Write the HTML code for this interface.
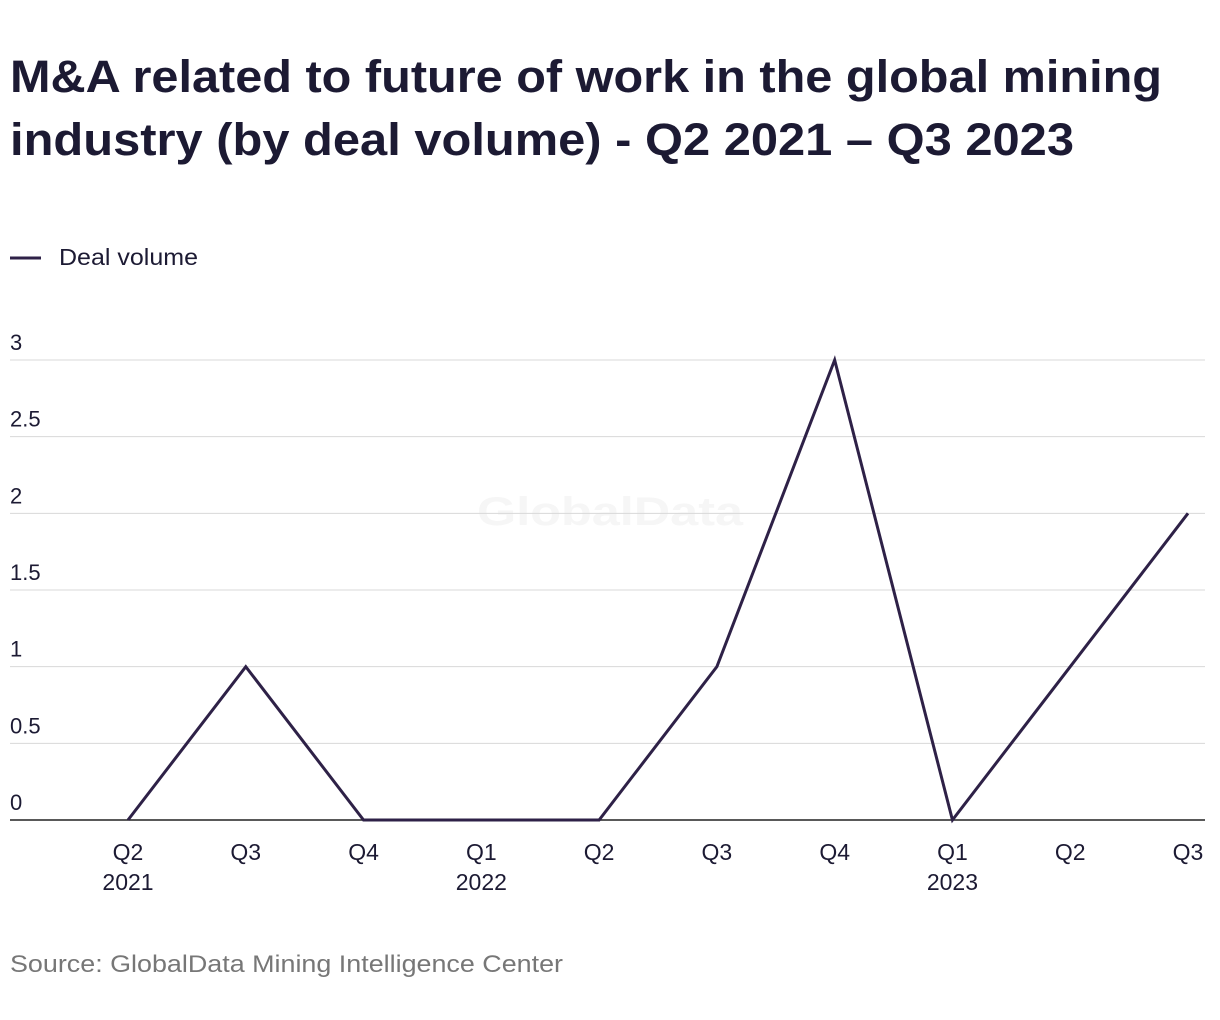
<!DOCTYPE html>
<html><head><meta charset="utf-8"><style>
body{margin:0;background:#fff;width:1220px;height:1020px;overflow:hidden;font-family:"Liberation Sans",sans-serif;}
svg{position:absolute;left:0;top:0}
</style></head><body>
<svg width="1220" height="1020">
<text x="10" y="92" font-size="45" font-weight="bold" fill="#1c1a33" textLength="1152" lengthAdjust="spacingAndGlyphs">M&amp;A related to future of work in the global mining</text>
<text x="10" y="155" font-size="45" font-weight="bold" fill="#1c1a33" textLength="1064" lengthAdjust="spacingAndGlyphs">industry (by deal volume) - Q2 2021 – Q3 2023</text>
<line x1="10" y1="258" x2="41" y2="258" stroke="#2e2147" stroke-width="3"/>
<text x="59" y="265" font-size="23" fill="#1c1a33" textLength="139" lengthAdjust="spacingAndGlyphs">Deal volume</text>
<text x="610" y="525" font-size="40" font-weight="bold" fill="#f6f6f6" text-anchor="middle" textLength="266" lengthAdjust="spacingAndGlyphs">GlobalData</text>
<g id="grid"></g><g id="xlab"></g>
<path id="line" fill="none" stroke="#2e2147" stroke-width="3" stroke-linejoin="miter"/>
<text x="10" y="972" font-size="24" fill="#777" textLength="553" lengthAdjust="spacingAndGlyphs">Source: GlobalData Mining Intelligence Center</text>
</svg>
<script>
const categories=["Q2","Q3","Q4","Q1","Q2","Q3","Q4","Q1","Q2","Q3"];
const years=["2021","","","2022","","","","2023","",""];
const values=[0,1,0,0,0,1,3,0,1,2];
const yTicks=[0,0.5,1,1.5,2,2.5,3];
const yTickLabels=["0","0.5","1","1.5","2","2.5","3"];
const NS="http://www.w3.org/2000/svg";
const y=v=>820-v*(460/3);
const x=i=>128+i*(1060/(categories.length-1));
const g=document.getElementById('grid');
yTicks.forEach((t,i)=>{
 const l=document.createElementNS(NS,'line');
 l.setAttribute('x1',10);l.setAttribute('x2',1205);l.setAttribute('y1',y(t));l.setAttribute('y2',y(t));
 l.setAttribute('stroke',t===0?'#222':'#d8d8d8');l.setAttribute('stroke-width',t===0?1.5:1);
 
 
 g.appendChild(l);
 const tx=document.createElementNS(NS,'text');
 tx.setAttribute('x',10);tx.setAttribute('y',y(t)-10);tx.setAttribute('font-size','22');tx.setAttribute('fill','#1c1a33');
 tx.textContent=yTickLabels[i];
 
 
 g.appendChild(tx);
});
const xl=document.getElementById('xlab');
categories.forEach((c,i)=>{
 const tx=document.createElementNS(NS,'text');
 tx.setAttribute('x',x(i));tx.setAttribute('y',860);tx.setAttribute('font-size','23');tx.setAttribute('fill','#1c1a33');tx.setAttribute('text-anchor','middle');
 tx.textContent=c;
 
 
 xl.appendChild(tx);
 if(years[i]){
  const ty=document.createElementNS(NS,'text');
  ty.setAttribute('x',x(i));ty.setAttribute('y',890);ty.setAttribute('font-size','23');ty.setAttribute('fill','#1c1a33');ty.setAttribute('text-anchor','middle');
  ty.textContent=years[i];
  
  
  xl.appendChild(ty);
 }
});
document.getElementById('line').setAttribute('d',values.map((v,i)=>(i?'L':'M')+x(i)+' '+y(v)).join(' '));
</script>
</body></html>
